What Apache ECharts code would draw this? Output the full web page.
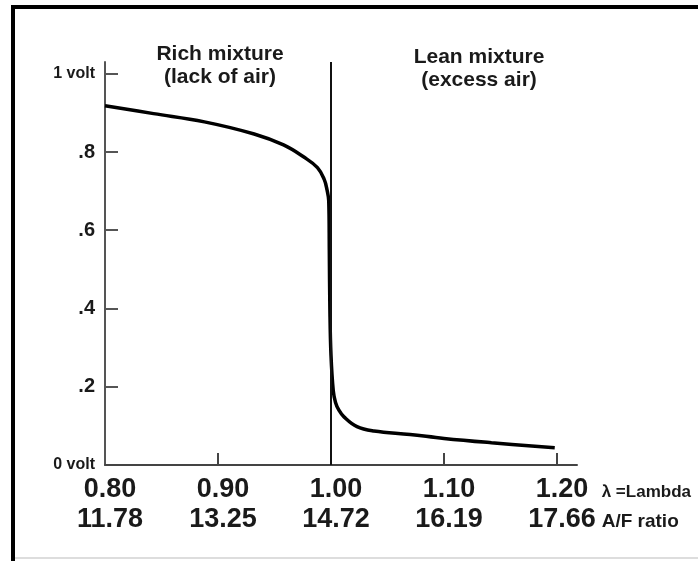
<!DOCTYPE html>
<html>
<head>
<meta charset="utf-8">
<script src="https://cdn.jsdelivr.net/npm/echarts@6/dist/echarts.min.js"></script>
<style>
  html, body { margin: 0; padding: 0; background: #fff; }
  #chart { width: 698px; height: 561px; }
</style>
</head>
<body>
<div id="chart"></div>
<script>
// lambda (x) and sensor voltage (y)
const lambda = [0.800, 0.843, 0.888, 0.932, 0.958, 0.976, 0.988, 0.994, 0.9965, 0.998, 0.9985, 0.999, 1.000,
  1.002, 1.004, 1.007, 1.0115, 1.023, 1.038, 1.070, 1.100, 1.142, 1.198];
const volts = [0.918, 0.898, 0.877, 0.846, 0.818, 0.787, 0.760, 0.730, 0.703, 0.675, 0.55, 0.40, 0.28,
  0.19, 0.16, 0.14, 0.123, 0.098, 0.087, 0.078, 0.068, 0.057, 0.044];

// axis ticks and labels
const lambdaTicks = [0.8, 0.9, 1.0, 1.1, 1.2];
const lambdaLabels = ['0.80', '0.90', '1.00', '1.10', '1.20'];
const afRatioLabels = ['11.78', '13.25', '14.72', '16.19', '17.66'];
const voltTicks = [0, 0.2, 0.4, 0.6, 0.8, 1];
const voltLabels = ['0 volt', '.2', '.4', '.6', '.8', '1 volt'];
const stoichLambda = 1.0;

const FONT = '"Liberation Sans", Arial, sans-serif';

const idx = (arr, v) => arr.findIndex(t => Math.abs(t - v) < 1e-6);

const chart = echarts.init(document.getElementById('chart'));
chart.setOption({
  backgroundColor: '#fff',
  animation: false,
  textStyle: { fontFamily: FONT },
  title: [
    {
      text: 'Rich mixture\n(lack of air)',
      left: 215, top: 38, textAlign: 'center',
      textStyle: { fontSize: 21, fontWeight: 'bold', color: '#1a1a1a', lineHeight: 23, fontFamily: FONT }
    },
    {
      text: 'Lean mixture\n(excess air)',
      left: 474, top: 41, textAlign: 'center',
      textStyle: { fontSize: 21, fontWeight: 'bold', color: '#1a1a1a', lineHeight: 23, fontFamily: FONT }
    }
  ],
  graphic: [
    { type: 'rect', shape: { x: 11, y: 5, width: 687, height: 4 }, style: { fill: '#000' } },
    { type: 'rect', shape: { x: 11, y: 5, width: 4, height: 556 }, style: { fill: '#000' } },
    { type: 'rect', shape: { x: 15, y: 557, width: 683, height: 2 }, style: { fill: '#ddd' } }
  ],
  grid: { left: 105, right: 121, top: 62, bottom: 96, containLabel: false, outerBoundsMode: 'none' },
  xAxis: {
    type: 'value',
    min: 0.8,
    max: 1.2177,
    splitLine: { show: false },
    axisLine: { lineStyle: { color: '#444', width: 2 } },
    axisTick: {
      customValues: lambdaTicks.slice(1),
      inside: true, length: 12,
      lineStyle: { color: '#444', width: 2 }
    },
    axisLabel: {
      customValues: lambdaTicks,
      margin: 10,
      padding: [0, 0, 0, 10],
      color: '#1a1a1a',
      fontSize: 27,
      fontWeight: 'bold',
      lineHeight: 30,
      fontFamily: FONT,
      formatter: v => {
        const i = idx(lambdaTicks, v);
        return i < 0 ? '' : lambdaLabels[i] + '\n' + afRatioLabels[i];
      }
    },
    name: '{a|λ =Lambda}\n{b|A/F ratio}',
    nameLocation: 'end',
    nameGap: 22,
    nameTextStyle: {
      align: 'left',
      verticalAlign: 'top',
      padding: [12, 0, 0, 0],
      rich: {
        a: { fontSize: 17, fontWeight: 'bold', color: '#1a1a1a', lineHeight: 30, fontFamily: FONT },
        b: { fontSize: 19, fontWeight: 'bold', color: '#1a1a1a', lineHeight: 30, fontFamily: FONT }
      }
    }
  },
  yAxis: {
    type: 'value',
    min: 0,
    max: 1.03,
    splitLine: { show: false },
    axisLine: { show: true, lineStyle: { color: '#555', width: 2 } },
    axisTick: {
      show: true,
      customValues: voltTicks.slice(1),
      inside: true, length: 13,
      lineStyle: { color: '#555', width: 2 }
    },
    axisLabel: {
      customValues: voltTicks,
      margin: 10,
      formatter: v => {
        const i = idx(voltTicks, v);
        if (i < 0) return '';
        return (i === 0 || i === voltTicks.length - 1) ? '{u|' + voltLabels[i] + '}' : '{n|' + voltLabels[i] + '}';
      },
      rich: {
        u: { fontSize: 16, fontWeight: 'bold', color: '#1a1a1a', fontFamily: FONT },
        n: { fontSize: 20, fontWeight: 'bold', color: '#1a1a1a', fontFamily: FONT }
      }
    }
  },
  series: [
    {
      type: 'line',
      data: lambda.map((x, i) => [x, volts[i]]),
      smooth: 0.4,
      showSymbol: false,
      lineStyle: { color: '#000', width: 3.5 },
      markLine: {
        silent: true,
        symbol: 'none',
        label: { show: false },
        lineStyle: { color: '#111', width: 2, type: 'solid' },
        data: [{ xAxis: stoichLambda }]
      }
    }
  ]
});
</script>
</body>
</html>
